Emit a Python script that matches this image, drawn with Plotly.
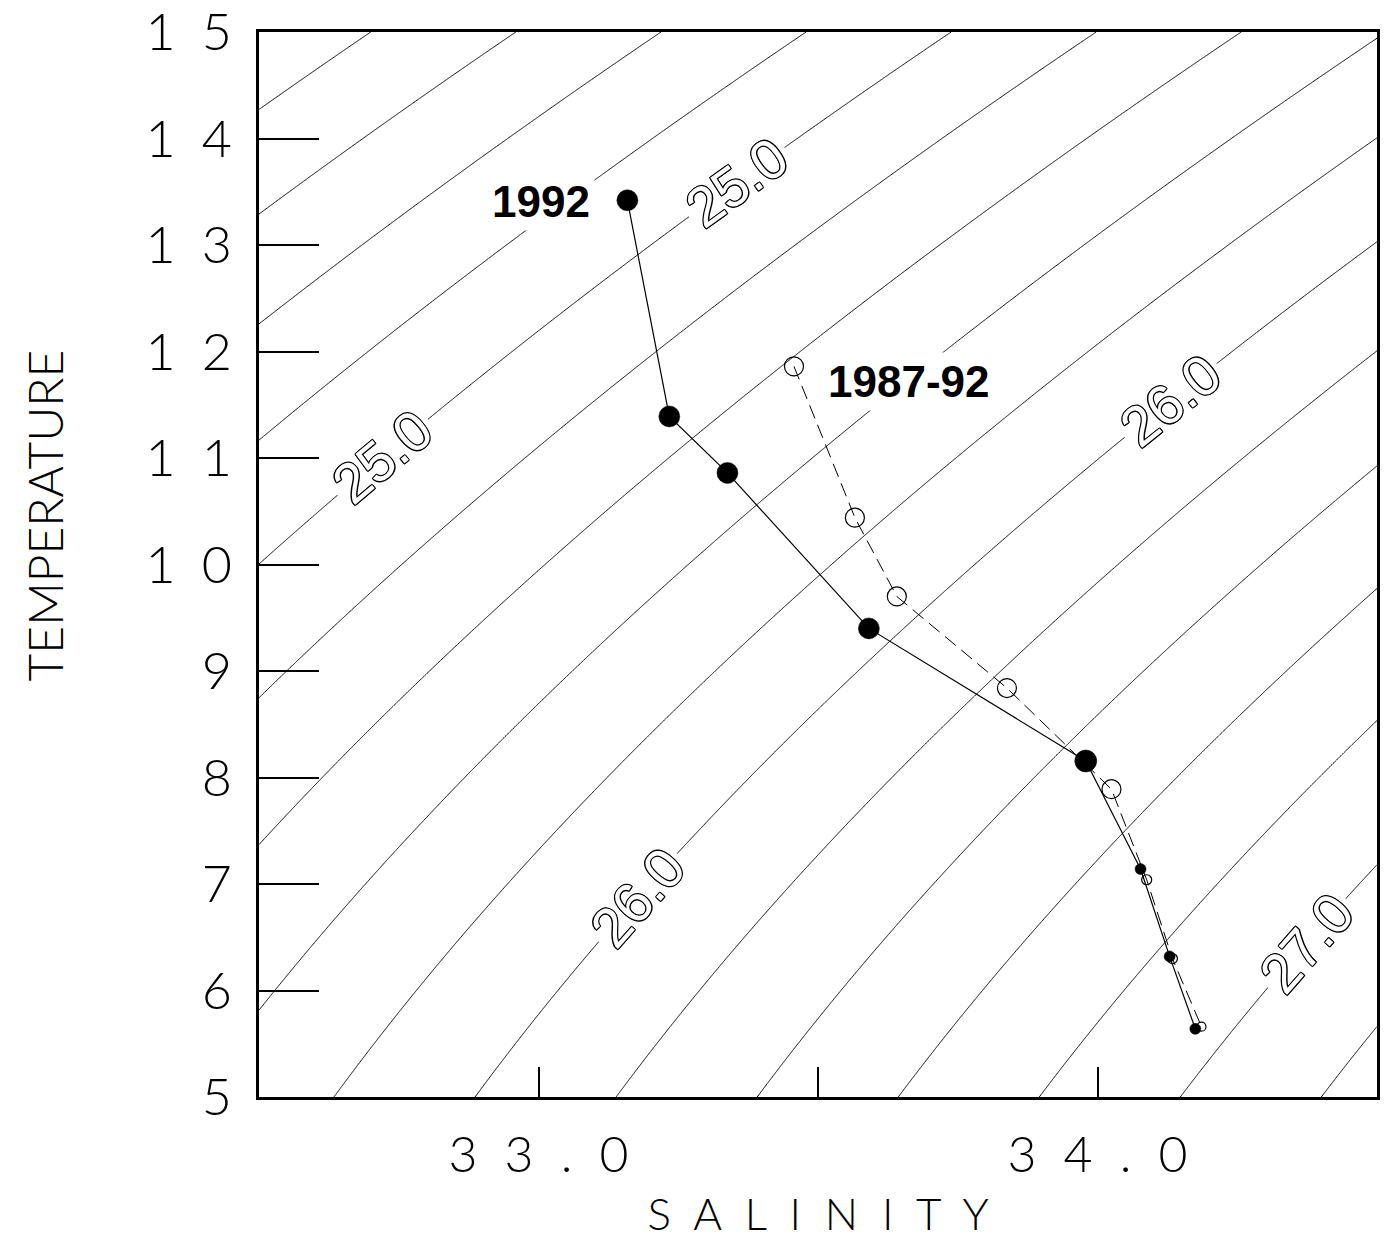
import numpy as np
import plotly.graph_objects as go

# ---- station means: salinity (psu) and temperature (deg C) ----
sal_1992 = [33.159, 33.234, 33.338, 33.591, 33.979, 34.077, 34.129, 34.175]
temp_1992 = [13.42, 11.39, 10.86, 9.40, 8.155, 7.14, 6.32, 5.64]

sal_8792 = [33.457, 33.566, 33.641, 33.838, 34.025, 34.088, 34.134, 34.186]
temp_8792 = [11.86, 10.44, 9.70, 8.84, 7.89, 7.04, 6.30, 5.66]

# isopycnal labels and the salinity at which each is written along its line
iso_levels = [25.0, 25.0, 26.0, 26.0, 27.0]
iso_label_sal = [33.354, 32.721, 34.130, 33.177, 34.373]

NB = "\u00a0"
x_ticks = [33.0, 33.5, 34.0]
x_ticktext = [(NB * 2).join("33.0"), "", (NB * 2).join("34.0")]
y_ticks = list(range(5, 16))
y_ticktext = [str(v) if v < 10 else "1\u2002" + str(v - 10) for v in y_ticks]

S_RANGE = [32.5, 34.5]
T_RANGE = [5, 15]

# marker styling (diameters in px)
size_1992 = [21, 21, 21, 21, 22, 11, 11, 11]
size_8792 = [19, 19, 19, 19, 19, 10, 10, 9]


def sigma_t(S, T):
    """UNESCO EOS-80 density anomaly at zero pressure."""
    S = np.asarray(S, dtype=float)
    T = np.asarray(T, dtype=float)
    rho_w = (999.842594 + 6.793952e-2 * T - 9.095290e-3 * T**2
             + 1.001685e-4 * T**3 - 1.120083e-6 * T**4 + 6.536332e-9 * T**5)
    A = (8.24493e-1 - 4.0899e-3 * T + 7.6438e-5 * T**2
         - 8.2467e-7 * T**3 + 5.3875e-9 * T**4)
    B = -5.72466e-3 + 1.0227e-4 * T - 1.6546e-6 * T**2
    C = 4.8314e-4
    return rho_w + A * S + B * S**1.5 + C * S**2 - 1000.0


def temp_on_isopycnal(S, level):
    lo, hi = T_RANGE[0] - 5, T_RANGE[1] + 5
    for _ in range(60):
        mid = 0.5 * (lo + hi)
        if sigma_t(S, mid) > level:
            lo = mid
        else:
            hi = mid
    return 0.5 * (lo + hi)


# ---- figure geometry ----
W, H = 1390, 1239
M = dict(l=259, r=13, t=32, b=142)
px_per_S = (W - M["l"] - M["r"]) / (S_RANGE[1] - S_RANGE[0])
px_per_T = (H - M["t"] - M["b"]) / (T_RANGE[1] - T_RANGE[0])

s_grid = np.linspace(S_RANGE[0], S_RANGE[1], 401)
t_grid = np.linspace(T_RANGE[0], T_RANGE[1], 401)
SS, TT = np.meshgrid(s_grid, t_grid)
sig = sigma_t(SS, TT)

fig = go.Figure()

fig.add_trace(go.Contour(
    x=s_grid, y=t_grid, z=sig,
    contours=dict(coloring="none", start=24.0, end=27.8, size=0.2, showlabels=False),
    line=dict(color="black", width=1, smoothing=0),
    showscale=False, hoverinfo="skip",
))

fig.add_trace(go.Scatter(
    x=sal_8792, y=temp_8792, mode="lines+markers", name="1987-92",
    line=dict(color="black", width=1, dash="14px,7px"),
    marker=dict(size=size_8792, color="rgba(0,0,0,0)", opacity=1,
                line=dict(color="black", width=1.2)),
    hoverinfo="skip",
))

fig.add_trace(go.Scatter(
    x=sal_1992, y=temp_1992, mode="lines+markers", name="1992",
    line=dict(color="black", width=1.2),
    marker=dict(size=size_1992, color="#000000", opacity=1,
                line=dict(color="#000000", width=0.5)),
    hoverinfo="skip",
))

# hollow isopycnal labels written along their lines
outline = ("-1px -1px 0 #000, 1px -1px 0 #000, -1px 1px 0 #000, 1px 1px 0 #000, "
           "0 -1px 0 #000, 0 1px 0 #000, -1px 0 0 #000, 1px 0 0 #000")
for level, s in zip(iso_levels, iso_label_sal):
    t = temp_on_isopycnal(s, level)
    d = 1e-3
    dsdS = (sigma_t(s + d, t) - sigma_t(s - d, t)) / (2 * d)
    dsdT = (sigma_t(s, t + d) - sigma_t(s, t - d)) / (2 * d)
    # tangent direction in pixel space
    dx = -dsdT * px_per_S
    dy = dsdS * px_per_T
    angle = -np.degrees(np.arctan2(dy, dx))
    fig.add_annotation(
        x=s, y=t, text=f"{level:.1f}", showarrow=False, textangle=angle,
        font=dict(family="Liberation Sans", size=56, color="white", shadow=outline),
        bgcolor="white", borderpad=4,
    )

label_font = dict(family="Liberation Sans, Arial", size=44,
                  color="black", weight="bold")
fig.add_annotation(x=33.005, y=13.41, text="1992", showarrow=False,
                   font=label_font, bgcolor="white", borderpad=4)
fig.add_annotation(x=33.6625, y=11.72, text="1987-92", showarrow=False,
                   font=label_font, bgcolor="white", borderpad=4)

thin = dict(family="Lato", size=52, color="black", weight=300)

# vertical axis title, placed beside the tick labels
fig.add_annotation(
    xref="paper", yref="paper", x=-0.191, y=0.5465,
    xanchor="center", yanchor="middle", textangle=-90, showarrow=False,
    text="TEMPERATURE",
    font=dict(family="Lato", size=48, color="black", weight=300),
)

fig.update_layout(
    width=W, height=H, margin=M,
    paper_bgcolor="white", plot_bgcolor="white",
    showlegend=False,
    xaxis=dict(
        range=S_RANGE, showgrid=False, zeroline=False, automargin=False,
        showline=True, mirror=True, linecolor="black", linewidth=2.5,
        ticks="inside", ticklen=30, tickwidth=1.5, tickcolor="black",
        tickvals=x_ticks, ticktext=x_ticktext,
        tickfont=dict(family="Lato", size=50, color="black", weight=300),
        ticklabelstandoff=12, ticklabeloverflow="allow",
        title=dict(text=(NB * 2).join("SALINITY"),
                   font=dict(family="Lato", size=44, color="black", weight=300),
                   standoff=18),
    ),
    yaxis=dict(
        range=T_RANGE, showgrid=False, zeroline=False, automargin=False,
        showline=True, mirror=True, linecolor="black", linewidth=2.5,
        ticks="inside", ticklen=60, tickwidth=1.8, tickcolor="black",
        tickvals=y_ticks, ticktext=y_ticktext, tickfont=thin,
        ticklabelstandoff=14, ticklabeloverflow="allow",
    ),
)

fig.write_html("out.html")
